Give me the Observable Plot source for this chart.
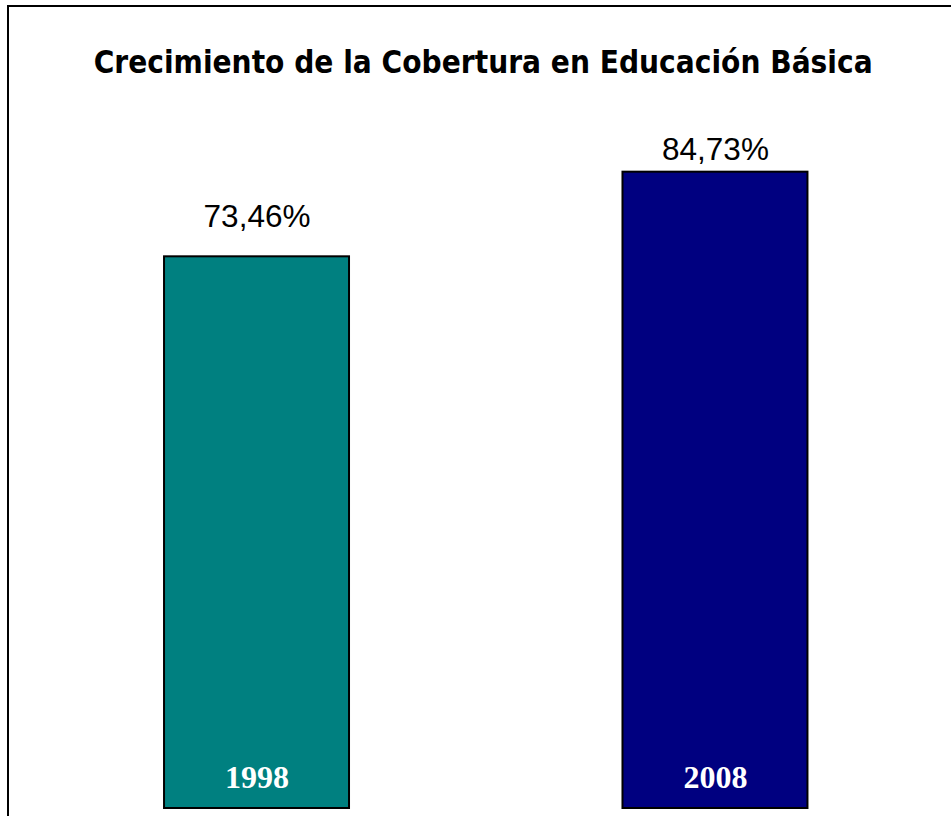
<!DOCTYPE html>
<html>
<head>
<meta charset="utf-8">
<script src="https://cdn.jsdelivr.net/npm/d3@7"></script>
<script src="https://cdn.jsdelivr.net/npm/@observablehq/plot@0.6"></script>
<style>
  html, body { margin: 0; padding: 0; background: #fff; width: 951px; height: 816px; overflow: hidden; }
  #box { position: absolute; left: 7px; top: 5px; width: 960px; height: 830px; border: 2px solid #000; box-sizing: border-box; }
  #title { position: absolute; left: 16px; top: 42px; width: 935px; text-align: center;
           font-family: "DejaVu Sans", sans-serif; font-weight: bold;
           font-size: 31.5px; line-height: 40px; color: #000; white-space: nowrap; }
  #title span { display: inline-block; transform-origin: center; }
  #chart { position: absolute; left: 0; top: 100px; }
</style>
</head>
<body>
<div id="box"></div>
<div id="title"><span>Crecimiento de la Cobertura en Educación Básica</span></div>
<div id="chart"></div>
<script>
const years = ["1998", "2008"];
const coverage = [73.46, 84.73];
const valueLabels = ["73,46%", "84,73%"];
const barColors = ["#008080", "#000080"];

const data = years.map((y, i) => ({ year: y, value: coverage[i], label: valueLabels[i], color: barColors[i] }));

const chart = Plot.plot({
  width: 951,
  height: 716,
  marginLeft: 26.5,
  marginRight: 6,
  marginTop: 0,
  marginBottom: 8,
  x: { domain: years, paddingInner: 0.5965, paddingOuter: 0.3, round: false, axis: null },
  y: { domain: [0, 708 / 7.51], axis: null },
  style: { background: "transparent", overflow: "visible" },
  marks: [
    Plot.barY(data, { x: "year", y: "value", fill: "color", stroke: "#000", strokeWidth: 2 }),
    Plot.text(data.filter(d => d.year === "1998"), { x: "year", y: "value", text: "label", lineAnchor: "bottom", dy: -30,
      fontFamily: "Liberation Sans, Arial, sans-serif", fontSize: 31.5, fill: "#000" }),
    Plot.text(data.filter(d => d.year === "2008"), { x: "year", y: "value", text: "label", lineAnchor: "bottom", dy: -12,
      fontFamily: "Liberation Sans, Arial, sans-serif", fontSize: 31.5, fill: "#000" }),
    Plot.text(data, { x: "year", y: 0, text: "year", lineAnchor: "bottom", dy: -21,
      fontFamily: "Liberation Serif, Times New Roman, serif", fontWeight: "bold", fontSize: 32, fill: "#fff" })
  ]
});
document.getElementById("chart").appendChild(chart);

// fit title to the reference's measured width
const span = document.querySelector("#title span");
const w = span.getBoundingClientRect().width;
span.style.transform = `scaleX(${779 / w})`;
</script>
</body>
</html>
